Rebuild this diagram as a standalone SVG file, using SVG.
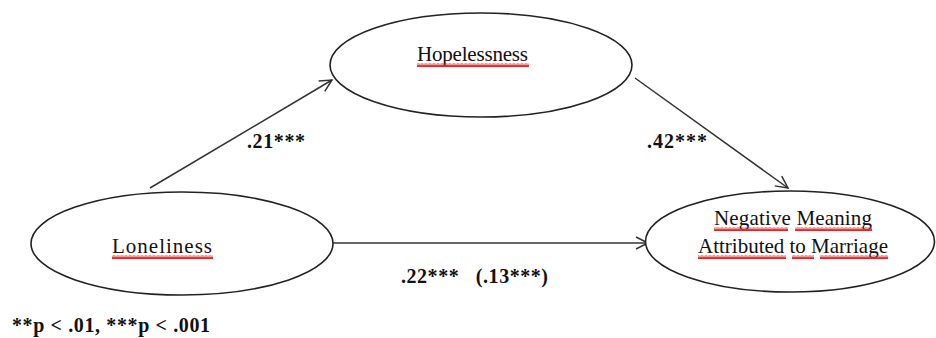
<svg xmlns="http://www.w3.org/2000/svg" width="936" height="338" viewBox="0 0 936 338">
<defs>
<marker id="arr" markerUnits="userSpaceOnUse" markerWidth="16" markerHeight="16" refX="13" refY="7" orient="auto">
<path d="M1,1 L13,7 L1,13" fill="none" stroke="#333" stroke-width="1.5"/>
</marker>
<pattern id="wavy" width="4" height="4" patternUnits="userSpaceOnUse">
<path d="M0,3.2 L1,0.8 L2,3.2 L3,0.8 L4,3.2" fill="none" stroke="#e02828" stroke-width="1.1"/>
</pattern>
</defs>
<style>
.node{fill:#fff;stroke:#222;stroke-width:1.6}
.lbl{font-family:"Liberation Serif","Times New Roman",serif;font-size:21px;fill:#111}
.coef{font-family:"Liberation Serif","Times New Roman",serif;font-size:20px;font-weight:bold;fill:#111}
.edge{stroke:#333;stroke-width:1.5;fill:none}
.sq{fill:url(#wavy)}
</style>
<rect width="936" height="338" fill="#fff"/>
<g id="connectors">
<line class="edge" x1="150" y1="188" x2="332" y2="80" marker-end="url(#arr)"/>
<line class="edge" x1="635" y1="78" x2="788" y2="188" marker-end="url(#arr)"/>
<line class="edge" x1="333" y1="243" x2="648" y2="243" stroke-width="2" marker-end="url(#arr)"/>
<text class="coef" x="247" y="148" textLength="58">.21***</text>
<text class="coef" x="647" y="148" textLength="60">.42***</text>
<text class="coef" x="401" y="283" textLength="147" xml:space="preserve">.22***   (.13***)</text>
</g>
<g id="hopelessness">
<ellipse class="node" cx="481" cy="65" rx="151" ry="52"/>
<text class="lbl" x="417" y="61" textLength="111">Hopelessness</text>
<rect class="sq" x="417" y="63" width="112" height="4"/>
</g>
<g id="loneliness">
<ellipse class="node" cx="182" cy="243.5" rx="151" ry="51.5"/>
<text class="lbl" x="112" y="253" font-size="22.5" textLength="100">Loneliness</text>
<rect class="sq" x="112" y="255" width="101" height="4"/>
</g>
<g id="negative-meaning">
<ellipse class="node" cx="790" cy="241.5" rx="144.5" ry="50.5"/>
<text class="lbl" x="714" y="225" textLength="158">Negative Meaning</text>
<text class="lbl" x="698" y="253" textLength="190">Attributed to Marriage</text>
<rect class="sq" x="714" y="227" width="74" height="4"/>
<rect class="sq" x="795" y="227" width="77" height="4"/>
<rect class="sq" x="698" y="255" width="88" height="4"/>
<rect class="sq" x="792" y="255" width="22" height="4"/>
<rect class="sq" x="820" y="255" width="68" height="4"/>
</g>
<text class="coef" x="12" y="332" textLength="198">**p &lt; .01, ***p &lt; .001</text>
</svg>
